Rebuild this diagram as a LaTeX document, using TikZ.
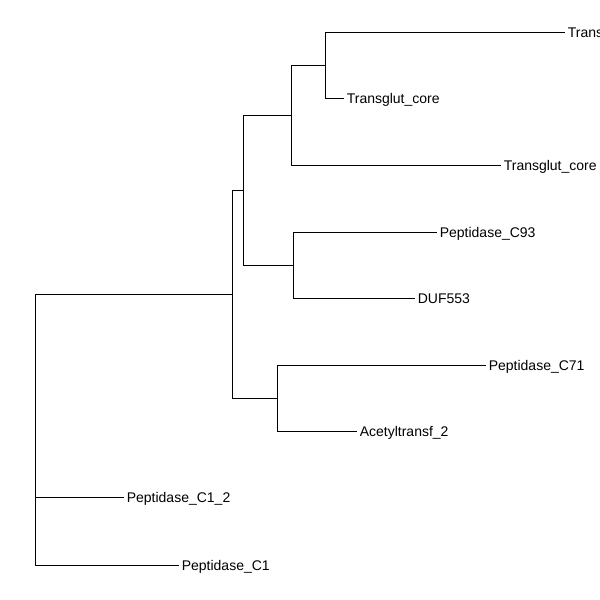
\documentclass[tikz,border=0pt]{standalone}
\usepackage{fontspec}
\setmainfont{Liberation Sans}
\begin{document}
\begin{tikzpicture}[x=1pt,y=-1pt,
  branch/.style={draw=black,line width=0.9pt},
  leaf/.style={anchor=west,inner xsep=2.8pt,inner ysep=0pt,outer sep=0pt,
    font=\fontsize{14}{15}\selectfont,text height=10pt,text depth=0pt}]
\useasboundingbox (0,0) rectangle (600,600);
\clip (0,0) rectangle (600,600);
% internal nodes
\coordinate (root) at (35,430);
\coordinate (nA) at (232,294);
\coordinate (nB) at (243,190);
\coordinate (nC) at (291,115);
\coordinate (nD) at (325,65);
\coordinate (nE) at (293,265);
\coordinate (nF) at (277,398);
% leaves
\node[leaf] (t1) at (565,32) {Transglut\_core};
\node[leaf] (t2) at (344,98) {Transglut\_core};
\node[leaf] (t3) at (501,165) {Transglut\_core};
\node[leaf] (p93) at (437,232) {Peptidase\_C93};
\node[leaf] (duf) at (415,298) {DUF553};
\node[leaf] (p71) at (486,365) {Peptidase\_C71};
\node[leaf] (ace) at (357,431) {Acetyltransf\_2};
\node[leaf] (c12) at (124,497) {Peptidase\_C1\_2};
\node[leaf] (c1) at (179,565) {Peptidase\_C1};
% branches
\path[branch] (root) |- (nA);
\path[branch] (root) |- (c12.west);
\path[branch] (root) |- (c1.west);
\path[branch] (nA) |- (nB);
\path[branch] (nA) |- (nF);
\path[branch] (nB) |- (nC);
\path[branch] (nB) |- (nE);
\path[branch] (nC) |- (nD);
\path[branch] (nC) |- (t3.west);
\path[branch] (nD) |- (t1.west);
\path[branch] (nD) |- (t2.west);
\path[branch] (nE) |- (p93.west);
\path[branch] (nE) |- (duf.west);
\path[branch] (nF) |- (p71.west);
\path[branch] (nF) |- (ace.west);
\coordinate (s1) at (35,452);
\coordinate (s2) at (35,497);
\path[branch] (s1) -- (s2);
\end{tikzpicture}
\end{document}
